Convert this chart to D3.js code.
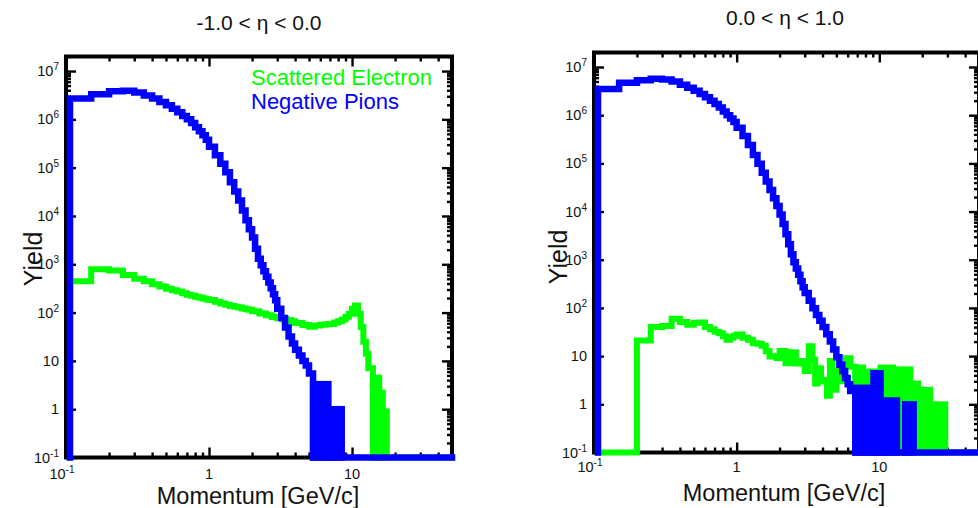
<!DOCTYPE html>
<html><head><meta charset="utf-8">
<script src="https://cdn.jsdelivr.net/npm/d3@7"></script>
<style>
body{margin:0;background:#fff}
svg text{font-family:"Liberation Sans",Arial,Helvetica,sans-serif;fill:#111}
</style>
</head><body>
<svg id="c" width="978" height="508"></svg>
<script>
// ---------------- data ----------------
const panelTitles = ["-1.0 < \u03b7 < 0.0", "0.0 < \u03b7 < 1.0"];
const legendLabels = ["Scattered Electron", "Negative Pions"];
const xTitle = "Momentum [GeV/c]";
const yTitle = "Yield";
const xTickValues = [0.1, 1, 10];
const xTickLabels = [["10", "-1"], ["1", ""], ["10", ""]];
const yTickValues = [0.1, 1, 10, 100, 1e3, 1e4, 1e5, 1e6, 1e7];
const yTickLabels = [["10", "-1"], ["1", ""], ["10", ""], ["10", "2"], ["10", "3"], ["10", "4"], ["10", "5"], ["10", "6"], ["10", "7"]];

// Left panel (-1 < eta < 0): negative pions, bin edges [GeV/c] and yields
const leftPionEdges = [0.1,0.15,0.2,0.25,0.3,0.35,0.4,0.45,0.5,0.55,0.6,0.65,0.7,0.75,0.8,0.85,0.9,0.95,1.0,
  1.1,1.2,1.3,1.4,1.5,1.6,1.7,1.8,1.9,2.0,2.1,2.2,2.3,2.4,2.5,2.6,2.7,2.8,2.9,3.0,
  3.2,3.4,3.6,3.8,4.0,4.25,4.5,4.75,5.0,5.34];
const leftPionValues = [2.7e6,3.3e6,3.8e6,3.9e6,3.6e6,3.1e6,2.7e6,2.3e6,1.95e6,1.65e6,1.4e6,1.18e6,1.0e6,8.4e5,6.9e5,5.7e5,4.7e5,3.8e5,
  2.7e5,1.8e5,1.2e5,8.0e4,5.0e4,3.2e4,2.1e4,1.3e4,8.2e3,5.3e3,
  3.6e3,2.1e3,1.3e3,960,720,550,420,320,240,180,
  120,77,49,32,23,
  17,13,10,8,5.5];
// fluctuating regions (bins alternate between empty and the given maximum): [pLow, pHigh, max]
const leftPionBands = [[5.34,6.83,3.3],[6.83,8.47,1.0]];

// Left panel: scattered electron
const leftEleEdges = [0.1,0.15,0.2,0.25,0.3,0.35,0.4,0.45,0.5,0.55,0.6,0.65,0.7,0.75,0.8,0.85,0.9,0.95,1.0,
  1.1,1.2,1.3,1.4,1.5,1.6,1.7,1.8,1.9,2.0,2.25,2.5,2.75,3.0,3.25,3.5,3.75,4.0,
  4.5,5.0,5.5,6.0,6.5,7.0,7.5,8.0,8.5,9.0,9.5,10.0,10.5,11.0,11.5,12.0,12.5,13.0,14.0];
const leftEleValues = [445,790,740,600,500,445,385,345,312,290,272,250,235,222,213,205,196,189,
  182,168,155,145,137,132,127,122,117,114,
  106,96,88,81,76,73,70,66,
  61,55,51,54,56,57,58,62,66,72,82,95,
  120,140,95,50,25,14,7];
const leftEleBands = [[14.0,15.5,4.5],[15.5,16.4,2.2],[16.4,17.5,0.9]];

// Right panel (0 < eta < 1): negative pions
const rightPionEdges = [0.1,0.15,0.2,0.25,0.3,0.35,0.4,0.45,0.5,0.55,0.6,0.65,0.7,0.75,0.8,0.85,0.9,0.95,1.0,
  1.1,1.2,1.3,1.4,1.5,1.6,1.7,1.8,1.9,2.0,2.1,2.2,2.3,2.4,2.5,2.6,2.7,2.8,2.9,3.0,
  3.2,3.4,3.6,3.8,4.0,4.25,4.5,4.75,5.0,5.25,5.5,5.75,6.0,6.25,6.8];
const rightPionValues = [3.5e6,4.7e6,5.3e6,5.7e6,5.5e6,5.0e6,4.3e6,3.7e6,3.2e6,2.75e6,2.35e6,2.0e6,1.7e6,1.45e6,1.2e6,1.0e6,8.5e5,7.2e5,
  5.5e5,3.7e5,2.4e5,1.5e5,9.8e4,6.4e4,4.2e4,2.8e4,1.9e4,1.3e4,
  8.7e3,5.5e3,3.4e3,2.1e3,1.3e3,890,660,490,360,270,
  205,141,98,71,54,
  40,28.5,20,13.8,9.5,6.6,4.9,3.5,2.6,1.9];
const rightPionBands = [[6.8,9.1,2.2],[9.1,10.2,4.4],[10.2,13.3,1.2],[15.2,17.4,1.0]];

// Right panel: scattered electron (empty below 0.2 GeV/c)
const rightEleEdges = [0.2,0.25,0.3,0.35,0.4,0.45,0.5,0.55,0.6,0.65,0.7,0.75,0.8,0.85,0.9,0.95,1.0,
  1.1,1.2,1.3,1.4,1.5,1.6,1.7,1.8,1.9,2.0,
  2.2,2.4,2.6,2.8,3.0,3.2,3.4,3.55,3.7,3.9,4.1,4.3,4.5,4.7,5.0,5.4,5.8,6.3,6.8];
const rightEleValues = [21,40,42,60,51,45,49,50,40,36,32,30,26,22,24,26.5,
  28,24,22,18.6,18,16.4,12.6,9.8,10,9.1,
  12.7,7.1,12,7,7.9,4.9,16,8.4,2.7,5.6,3,3.2,1.5,7.9,2,5,3,9,6];
const rightEleBands = [[6.8,7.7,5.8],[7.7,8.2,4.8],[8.2,8.9,2.6],[8.9,10.2,4.8],[10.2,12.5,5.8],
  [12.5,16.5,5.3],[16.5,18.7,2.7],[18.7,22.7,2.0],[22.7,29,1.0]];

const xDomain = [0.1, 50];
const yDomain = [0.1, 2e7];
const colors = {ele: "#00ff00", pion: "#0000ff"};

// ---------------- layout ----------------
const panels = [
  {title: panelTitles[0], tx: 259, ty: 30, left: 66, right: 452, top: 56.5, bottom: 457.5,
   xlabY: 479, xTitleY: 504, xTitleX: 258, yTitleX: 42, yTitleY: 259, legend: true,
   pion: [leftPionEdges, leftPionValues, leftPionBands], ele: [leftEleEdges, leftEleValues, leftEleBands]},
  {title: panelTitles[1], tx: 785, ty: 25, left: 594, right: 979, top: 52.5, bottom: 452.5,
   xlabY: 472, xTitleY: 501, xTitleX: 784, yTitleX: 567, yTitleY: 257, legend: false,
   pion: [rightPionEdges, rightPionValues, rightPionBands], ele: [rightEleEdges, rightEleValues, rightEleBands]}
];

const svg = d3.select("#c");
const LW = {ele: 6, pion: 6.5};

function minorTicks(lo, hi, majors) {
  const out = [];
  for (let d = Math.floor(Math.log10(lo)); d <= Math.ceil(Math.log10(hi)); d++) {
    for (let k = 1; k <= 9; k++) {
      const v = k * Math.pow(10, d);
      if (v >= lo * 0.999 && v <= hi * 1.001 && !majors.some(m => Math.abs(m - v) / v < 1e-6)) out.push(v);
    }
  }
  return out;
}

function setLabel(sel, base, exp, fe, dy) {
  sel.text(null);
  sel.append("tspan").text(base);
  if (exp) sel.append("tspan").attr("font-size", fe).attr("dy", dy).text(exp);
}

panels.forEach(P => {
  const x = d3.scaleLog().domain(xDomain).range([P.left, P.right]);
  const y = d3.scaleLog().domain(yDomain).range([P.bottom, P.top]);
  const g = svg.append("g");

  // title
  g.append("text").attr("x", P.tx).attr("y", P.ty).attr("text-anchor", "middle")
    .attr("font-size", 21).text(P.title);

  // ticks via d3 axes (inward)
  const xMinor = minorTicks(xDomain[0], xDomain[1], xTickValues);
  const yMinor = minorTicks(yDomain[0], yDomain[1], yTickValues);
  const axes = [
    [d3.axisBottom(x).tickValues(xTickValues).tickSize(-10), `translate(0,${P.bottom})`],
    [d3.axisBottom(x).tickValues(xMinor).tickSize(-5), `translate(0,${P.bottom})`],
    [d3.axisTop(x).tickValues(xTickValues).tickSize(-10), `translate(0,${P.top})`],
    [d3.axisTop(x).tickValues(xMinor).tickSize(-5), `translate(0,${P.top})`],
    [d3.axisLeft(y).tickValues(yTickValues).tickSize(-10), `translate(${P.left},0)`],
    [d3.axisLeft(y).tickValues(yMinor).tickSize(-5), `translate(${P.left},0)`],
    [d3.axisRight(y).tickValues(yTickValues).tickSize(-10), `translate(${P.right},0)`],
    [d3.axisRight(y).tickValues(yMinor).tickSize(-5), `translate(${P.right},0)`]
  ];
  axes.forEach(([ax, tr]) => {
    const a = g.append("g").attr("transform", tr).call(ax.tickFormat(""));
    a.select(".domain").remove();
    a.selectAll("line").attr("stroke", "#000").attr("stroke-width", 2.4);
  });

  // frame
  g.append("rect").attr("x", P.left).attr("y", P.top)
    .attr("width", P.right - P.left).attr("height", P.bottom - P.top)
    .attr("fill", "none").attr("stroke", "#000").attr("stroke-width", 4);

  // tick labels
  xTickValues.forEach((v, i) => {
    const [b, e] = xTickLabels[i];
    const t = g.append("text").attr("x", x(v) - (e ? 4 : 0)).attr("y", P.xlabY)
      .attr("text-anchor", "middle").attr("font-size", 14.5);
    setLabel(t, b, e, 10, -6);
  });
  yTickValues.forEach((v, i) => {
    const [b, e] = yTickLabels[i];
    const t = g.append("text").attr("x", P.left - 7).attr("y", y(v) + 5)
      .attr("text-anchor", "end").attr("font-size", 14.5);
    setLabel(t, b, e, 10, -6);
  });

  // axis titles
  g.append("text").attr("x", P.xTitleX).attr("y", P.xTitleY).attr("text-anchor", "middle")
    .attr("font-size", 23.5).text(xTitle);
  g.append("text").attr("transform", `translate(${P.yTitleX},${P.yTitleY}) rotate(-90)`)
    .attr("text-anchor", "middle").attr("font-size", 25).text(yTitle);

  // histograms
  const floor = yDomain[0];
  const xc = p => Math.max(x(p), P.left + 4);
  function drawHist(series, color, lw) {
    const [edges, values, bands] = series;
    const pts = [[xDomain[0], floor], [edges[0], floor]];
    values.forEach((v, i) => { pts.push([edges[i], v]); pts.push([edges[i + 1], v]); });
    pts.push([edges[edges.length - 1], floor]);
    pts.push([xDomain[1], floor]);
    g.append("g").selectAll("rect").data(bands).join("rect")
      .attr("x", d => xc(d[0])).attr("width", d => xc(d[1]) - xc(d[0]))
      .attr("y", d => y(d[2])).attr("height", d => y(floor) - y(d[2]))
      .attr("fill", color).attr("stroke", color).attr("stroke-width", lw).attr("stroke-linejoin", "miter");
    g.append("path").attr("d", d3.line().x(d => xc(d[0])).y(d => y(d[1]))(pts))
      .attr("fill", "none").attr("stroke", color).attr("stroke-width", lw)
      .attr("stroke-linejoin", "miter").attr("stroke-linecap", "square");
  }
  drawHist(P.ele, colors.ele, LW.ele);
  drawHist(P.pion, colors.pion, LW.pion);

  if (P.legend) {
    g.append("text").attr("x", 251).attr("y", 85).attr("font-size", 22)
      .style("fill", colors.ele).text(legendLabels[0]);
    g.append("text").attr("x", 251).attr("y", 109).attr("font-size", 22)
      .style("fill", colors.pion).text(legendLabels[1]);
  }
});
</script>
</body></html>
